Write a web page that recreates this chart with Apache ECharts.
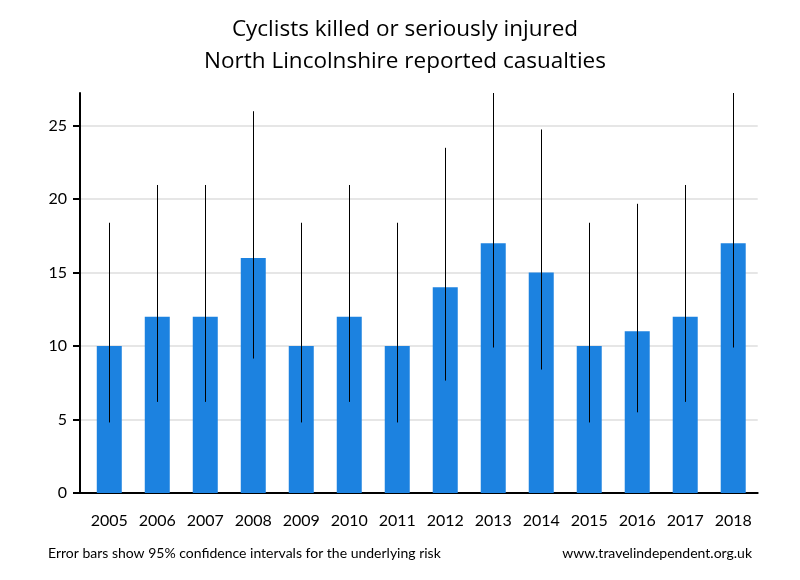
<!DOCTYPE html>
<html>
<head>
<meta charset="utf-8">
<script src="https://cdn.jsdelivr.net/npm/echarts@6/dist/echarts.min.js"></script>
<style>html,body{margin:0;padding:0;background:#fff}#c{width:800px;height:580px}</style>
</head>
<body>
<div id="c"></div>
<script>
var years = [2005, 2006, 2007, 2008, 2009, 2010, 2011, 2012, 2013, 2014, 2015, 2016, 2017, 2018];
var casualties = [10, 12, 12, 16, 10, 12, 10, 14, 17, 15, 10, 11, 12, 17];
var lowCI = [4.8, 6.2, 6.2, 9.15, 4.8, 6.2, 4.8, 7.65, 9.9, 8.4, 4.8, 5.49, 6.2, 9.9];
var highCI = [18.39, 20.96, 20.96, 25.98, 18.39, 20.96, 18.39, 23.49, 27.22, 24.74, 18.39, 19.68, 20.96, 27.22];
var yTicks = [0, 5, 10, 15, 20, 25];

var barData = years.map(function (y, i) { return [y, casualties[i]]; });
var errData = years.map(function (y, i) { return [y, lowCI[i], highCI[i]]; });

var chart = echarts.init(document.getElementById('c'), null, {renderer: 'canvas'});
chart.setOption({
  animation: false,
  backgroundColor: '#ffffff',
  textStyle: {fontFamily: 'Lato'},
  title: [
    {
      text: 'Cyclists killed or seriously injured\nNorth Lincolnshire reported casualties',
      left: 400, top: 9,
      textAlign: 'center',
      textStyle: {fontFamily: 'Open Sans', fontSize: 22.5, fontWeight: 'normal', color: '#000', lineHeight: 31.5}
    },
    {
      text: 'Error bars show 95% confidence intervals for the underlying risk',
      left: 43, top: 541,
      textStyle: {fontFamily: 'Lato', fontSize: 14, fontWeight: 'normal', color: '#000'}
    },
    {
      text: 'www.travelindependent.org.uk',
      right: 43, top: 541,
      textStyle: {fontFamily: 'Lato', fontSize: 14, fontWeight: 'normal', color: '#000'}
    }
  ],
  grid: {left: 80, right: 42.3, top: 93, bottom: 87, containLabel: false},
  xAxis: {
    type: 'value',
    min: 2004.39, max: 2018.51,
    axisLine: {show: true, lineStyle: {color: '#000', width: 2}},
    axisTick: {show: false},
    splitLine: {show: false},
    axisLabel: {
      customValues: years,
      margin: 20,
      fontFamily: 'Lato', fontSize: 16, color: '#000',
      formatter: function (v) { return String(Math.round(v)); }
    }
  },
  yAxis: {
    type: 'value',
    min: 0, max: 27.22, interval: 5,
    axisLine: {show: true, lineStyle: {color: '#000', width: 2}},
    axisTick: {show: true, inside: false, length: 7, customValues: yTicks, lineStyle: {color: '#000', width: 2}},
    splitLine: {show: true, customValues: yTicks.slice(1), lineStyle: {color: '#e6e6e6', width: 2}},
    axisLabel: {customValues: yTicks, margin: 13, fontFamily: 'Lato', fontSize: 16, color: '#000'}
  },
  series: [
    {
      type: 'bar',
      data: barData,
      barWidth: 25,
      itemStyle: {color: '#1c82e0'},
      z: 2
    },
    {
      type: 'custom',
      data: errData,
      z: 3,
      renderItem: function (params, api) {
        var x = api.value(0);
        var lo = api.coord([x, api.value(1)]);
        var hi = api.coord([x, api.value(2)]);
        return {
          type: 'line',
          shape: {x1: Math.round(lo[0]) + 0.5, y1: lo[1], x2: Math.round(hi[0]) + 0.5, y2: hi[1]},
          style: {stroke: '#000', lineWidth: 1}
        };
      }
    }
  ]
});
</script>
</body>
</html>
